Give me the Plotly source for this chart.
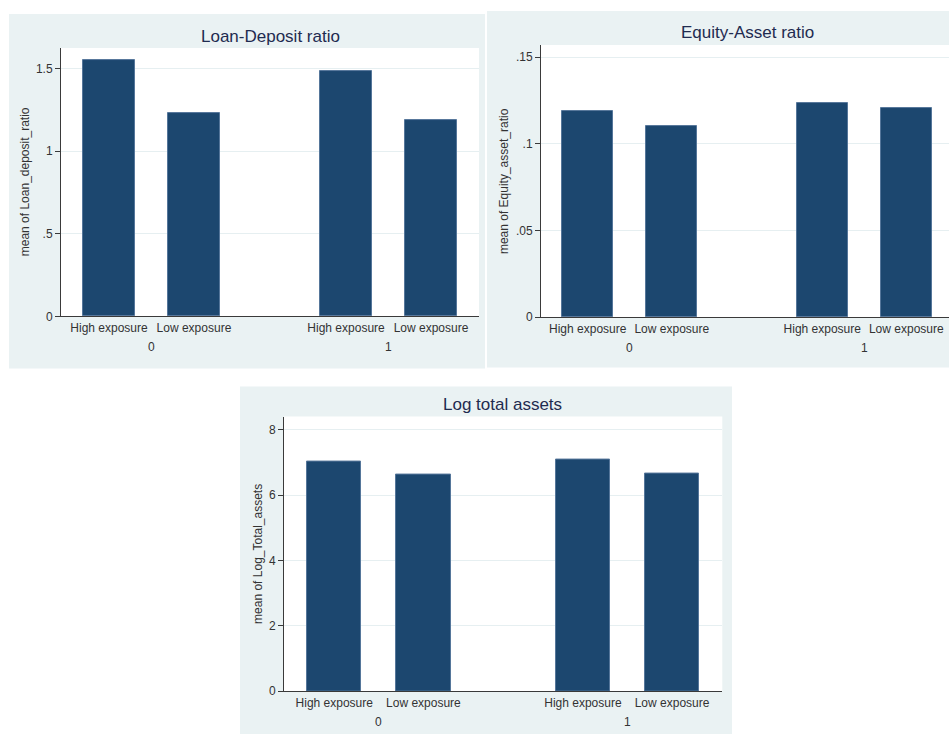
import plotly.graph_objects as go

W, H = 949, 734
V_SCALE = 726  # vertical pixel basis used for placing panels

# ---- data -------------------------------------------------------------
exposure = ["High exposure", "Low exposure"]
groups = ["0", "1"]

loan_deposit = [1.55, 1.228, 1.487, 1.186]      # group 0 (high, low), group 1 (high, low)
equity_asset = [0.1187, 0.110, 0.1235, 0.1205]
log_assets = [7.03, 6.62, 7.08, 6.67]

ld_ticks = [0, 0.5, 1, 1.5]
ld_ticktext = ["0", ".5", "1", "1.5"]
ea_ticks = [0, 0.05, 0.1, 0.15]
ea_ticktext = ["0", ".05", ".1", ".15"]
la_ticks = [0, 2, 4, 6, 8]
la_ticktext = ["0", "2", "4", "6", "8"]

# ---- style ------------------------------------------------------------
BAR = "#1c476f"
BAR_EDGE = "#55769a"
PANEL_BG = "#eaf2f3"
GRID = "#e6eff1"
AXIS = "#3a3a3a"
TITLE_C = "#1f2b50"
TEXT_C = "#333333"
FONT = "Liberation Sans, Arial, sans-serif"

GROUP_GAP = 2.79   # distance between first bars of the two groups
BAR_W = 0.61

def px_x(p):
    return p / W

def px_y(p):
    return 1 - p / V_SCALE

# bar positions: index within group + group offset
xpos = [g * GROUP_GAP + i for g in range(len(groups)) for i in range(len(exposure))]
xlabels = [e for _ in groups for e in exposure]
group_centers = [g * GROUP_GAP + (len(exposure) - 1) / 2 for g in range(len(groups))]

panels = [
    dict(title="Loan-Deposit ratio", ytitle="mean of Loan_deposit_ratio",
         values=loan_deposit, ticks=ld_ticks, ticktext=ld_ticktext, ymax=1.624,
         bg=(9, 14, 485, 368), plot=(61, 48, 479, 316), xr=(-0.565, 4.355),
         title_xy=(270, 36), ytitle_x=25),
    dict(title="Equity-Asset ratio", ytitle="mean of Equity_asset_ratio",
         values=equity_asset, ticks=ea_ticks, ticktext=ea_ticktext, ymax=0.157,
         bg=(487, 11, 960, 367), plot=(541, 45, 949, 316.7), xr=(-0.556, 4.298),
         title_xy=(747, 32), ytitle_x=504),
    dict(title="Log total assets", ytitle="mean of Log_Total_assets",
         values=log_assets, ticks=la_ticks, ticktext=la_ticktext, ymax=8.4,
         bg=(240, 386, 732, 745), plot=(284, 416, 722.3, 690.3), xr=(-0.564, 4.354),
         title_xy=(503, 404), ytitle_x=258),
]

fig = go.Figure()
shapes = []
annotations = []

for k, p in enumerate(panels, start=1):
    xa = "x" if k == 1 else f"x{k}"
    ya = "y" if k == 1 else f"y{k}"
    x0, y0, x1, y1 = p["plot"]

    # panel background
    bx0, by0, bx1, by1 = p["bg"]
    shapes.append(dict(type="rect", xref="paper", yref="paper", layer="below",
                       x0=px_x(bx0), x1=px_x(bx1), y0=px_y(by1), y1=px_y(by0),
                       fillcolor=PANEL_BG, line=dict(width=0)))
    # white plot region
    shapes.append(dict(type="rect", xref="paper", yref="paper", layer="below",
                       x0=px_x(x0), x1=px_x(x1), y0=px_y(y1), y1=px_y(y0),
                       fillcolor="white", line=dict(width=0)))

    fig.add_trace(go.Bar(
        x=xpos, y=p["values"], width=BAR_W, xaxis=xa, yaxis=ya,
        marker=dict(color=BAR, line=dict(color=BAR_EDGE, width=1)),
        showlegend=False, hoverinfo="y",
    ))

    xkey = "xaxis" if k == 1 else f"xaxis{k}"
    ykey = "yaxis" if k == 1 else f"yaxis{k}"
    fig.update_layout(**{
        xkey: dict(domain=[px_x(x0), px_x(x1)], anchor=ya, range=list(p["xr"]),
                   tickvals=xpos, ticktext=xlabels, ticks="", showgrid=False,
                   zeroline=False, showline=True, linecolor=AXIS, linewidth=1,
                   tickfont=dict(family=FONT, size=12, color=TEXT_C)),
        ykey: dict(domain=[px_y(y1), px_y(y0)], anchor=xa, range=[0, p["ymax"]],
                   tickvals=p["ticks"], ticktext=p["ticktext"], ticks="outside",
                   ticklen=5, tickcolor=AXIS, showgrid=True, gridcolor=GRID,
                   gridwidth=1, zeroline=False, showline=True, linecolor=AXIS,
                   linewidth=1, tickfont=dict(family=FONT, size=12, color=TEXT_C)),
    })

    # panel title
    tx, ty = p["title_xy"]
    annotations.append(dict(text=p["title"], xref="paper", yref="paper",
                            x=px_x(tx), y=px_y(ty), xanchor="center", yanchor="middle",
                            showarrow=False, font=dict(family=FONT, size=17, color=TITLE_C)))
    # y-axis title
    annotations.append(dict(text=p["ytitle"], xref="paper", yref="paper",
                            x=px_x(p["ytitle_x"]), y=px_y((y0 + y1) / 2), textangle=-90,
                            xanchor="center", yanchor="middle", showarrow=False,
                            font=dict(family=FONT, size=12, color=TEXT_C)))
    # group labels below the category labels
    for g, c in zip(groups, group_centers):
        annotations.append(dict(text=g, xref=xa, yref=f"{ya} domain", x=c, y=0,
                                yshift=-31, xanchor="center", yanchor="middle",
                                showarrow=False,
                                font=dict(family=FONT, size=12, color=TEXT_C)))

fig.update_layout(
    width=W, height=H, margin=dict(l=0, r=0, t=0, b=0),
    paper_bgcolor="white", plot_bgcolor="rgba(0,0,0,0)",
    shapes=shapes, annotations=annotations, bargap=0,
    font=dict(family=FONT, color=TEXT_C),
)

fig.write_html("out.html")
